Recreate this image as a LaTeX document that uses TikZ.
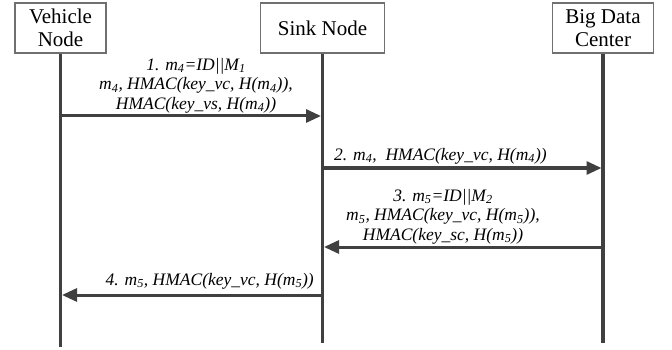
\documentclass[tikz,border=0pt]{standalone}
\usepackage{fontspec}
\setmainfont{Liberation Serif}
\usetikzlibrary{arrows.meta}

\definecolor{linegray}{HTML}{404040}
\definecolor{boxgray}{HTML}{707070}

\begin{document}
\begin{tikzpicture}[x=1pt,y=-1pt,
  party/.style={draw=boxgray, line width=1.1pt, minimum height=50pt, inner sep=0pt,
    align=center, font=\fontsize{21}{22.5}\selectfont},
  life/.style={draw=linegray, line width=3.5pt},
  msg/.style={draw=linegray, line width=3pt, shorten >=1.5pt,
    -{Triangle[length=15pt,width=13pt]}},
  msglabel/.style={inner sep=0pt, align=center, font=\fontsize{17.5}{19.5}\selectfont\itshape}]

\useasboundingbox (0,0) rectangle (672,350);

\node[party, minimum width=91pt] (veh) at (60.5,28) {Vehicle\\Node};
\node[party, minimum width=124pt] (sink) at (322.5,28) {Sink Node};
\node[party, minimum width=101pt] (bdc) at (603,28) {Big Data\\Center};

\coordinate (vend) at (60.5,347);
\coordinate (send) at (322.5,343);
\coordinate (bend) at (603,343);

\draw[life] (veh.south) -- (vend);
\draw[life] (sink.south) -- (send);
\draw[life] (bdc.south) -- (bend);

\coordinate (v1) at (60.5,116);
\coordinate (s1) at (322.5,116);
\coordinate (s2) at (322.5,168);
\coordinate (b2) at (603,168);
\coordinate (b3) at (603,247);
\coordinate (s3) at (322.5,247);
\coordinate (s4) at (322.5,295);
\coordinate (v4) at (60.5,295);

\draw[msg] (v1) -- (s1);
\draw[msg] (s2) -- (b2);
\draw[msg] (b3) -- (s3);
\draw[msg] (s4) -- (v4);

\node[msglabel, anchor=south] (lab1) at (196,113)
  {1. m\textsubscript{4}=ID||M\textsubscript{1}\\
   m\textsubscript{4}, HMAC(key\_vc, H(m\textsubscript{4})),\\
   HMAC(key\_vs, H(m\textsubscript{4}))};
\node[msglabel, anchor=south west] (lab2) at (334,164)
  {2. m\textsubscript{4},\ \ HMAC(key\_vc, H(m\textsubscript{4}))};
\node[msglabel, anchor=south] (lab3) at (443,244)
  {3. m\textsubscript{5}=ID||M\textsubscript{2}\\
   m\textsubscript{5}, HMAC(key\_vc, H(m\textsubscript{5})),\\
   HMAC(key\_sc, H(m\textsubscript{5}))};
\node[msglabel, anchor=south east] (lab4) at (314,289)
  {4. m\textsubscript{5}, HMAC(key\_vc, H(m\textsubscript{5}))};

\end{tikzpicture}
\end{document}
